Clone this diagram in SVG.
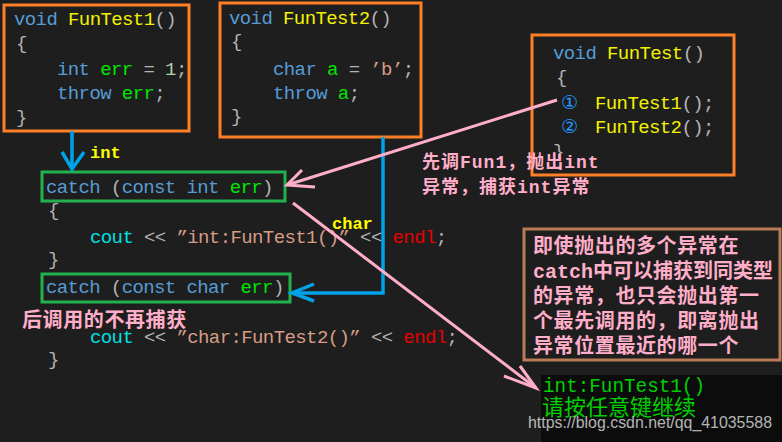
<svg xmlns="http://www.w3.org/2000/svg" width="782" height="442" viewBox="0 0 782 442">
<style>
.code{font-family:"Liberation Mono","DejaVu Sans Mono",monospace;font-size:19px;letter-spacing:-0.6px}
.kw{fill:#569cd6}.fn{fill:#f2f200}.pu{fill:#b4b4b4}.va{fill:#00e600}.num{fill:#b5cea8}.str{fill:#d69d85}.co{fill:#00e0e0}.en{fill:#e60000}
.num2{font-family:"DejaVu Sans",sans-serif;font-size:19px;fill:#1e9bff}
.orange{fill:none;stroke:#ff7f27;stroke-width:3}
.green{fill:none;stroke:#22b14c;stroke-width:3}
.brown{fill:none;stroke:#b97a57;stroke-width:3}
.note{font-family:"Liberation Mono","Noto Sans CJK SC",monospace;font-weight:bold;fill:#ffaec9}
.lab{font-family:"Liberation Mono",monospace;font-weight:bold;font-size:17px;fill:#ffff00}
.blue{fill:none;stroke:#00a2e8;stroke-width:3.5}
.pink{fill:none;stroke:#ffaec9;stroke-width:3}
</style>
<rect width="782" height="442" fill="#1e1e1e"/>

<g id="funtest1">
<rect class="orange" x="4" y="5" width="185" height="126"/>
<text class="code" xml:space="preserve" x="14" y="25"><tspan class="kw">void</tspan> <tspan class="fn">FunTest1</tspan><tspan class="pu">()</tspan></text>
<text class="code pu" x="16" y="49">{</text>
<text class="code" xml:space="preserve" x="57" y="75"><tspan class="kw">int</tspan> <tspan class="va">err</tspan> <tspan class="pu">=</tspan> <tspan class="num">1</tspan><tspan class="pu">;</tspan></text>
<text class="code" xml:space="preserve" x="57" y="99"><tspan class="kw">throw</tspan> <tspan class="va">err</tspan><tspan class="pu">;</tspan></text>
<text class="code pu" x="16" y="123">}</text>
</g>

<g id="funtest2">
<rect class="orange" x="220" y="3" width="201" height="134"/>
<text class="code" xml:space="preserve" x="229" y="24"><tspan class="kw">void</tspan> <tspan class="fn">FunTest2</tspan><tspan class="pu">()</tspan></text>
<text class="code pu" x="231" y="47">{</text>
<text class="code" xml:space="preserve" x="273" y="75"><tspan class="kw">char</tspan> <tspan class="va">a</tspan> <tspan class="pu">=</tspan> <tspan class="str">’b’</tspan><tspan class="pu">;</tspan></text>
<text class="code" xml:space="preserve" x="273" y="99"><tspan class="kw">throw</tspan> <tspan class="va">a</tspan><tspan class="pu">;</tspan></text>
<text class="code pu" x="231" y="122">}</text>
</g>

<g id="funtest">
<rect class="orange" x="532" y="35" width="202" height="140"/>
<text class="code" xml:space="preserve" x="553" y="59"><tspan class="kw">void</tspan> <tspan class="fn">FunTest</tspan><tspan class="pu">()</tspan></text>
<text class="code pu" x="556" y="83">{</text>
<text class="num2" x="561" y="109">①</text>
<text class="code" x="595" y="109"><tspan class="fn">FunTest1</tspan><tspan class="pu">();</tspan></text>
<text class="num2" x="561" y="133">②</text>
<text class="code" x="595" y="133"><tspan class="fn">FunTest2</tspan><tspan class="pu">();</tspan></text>
<text class="code pu" x="553" y="157">}</text>
</g>

<g id="catch-int">
<rect class="green" x="42" y="172" width="243" height="29"/>
<text class="code" xml:space="preserve" x="46" y="193"><tspan class="kw">catch</tspan> <tspan class="pu">(</tspan><tspan class="kw">const int</tspan> <tspan class="va">err</tspan><tspan class="pu">)</tspan></text>
<text class="code pu" x="48" y="216">{</text>
<text class="code" xml:space="preserve" x="90" y="243"><tspan class="co">cout</tspan> <tspan class="pu">&lt;&lt;</tspan> <tspan class="str">”int:FunTest1()”</tspan> <tspan class="pu">&lt;&lt;</tspan> <tspan class="en">endl</tspan><tspan class="pu">;</tspan></text>
<text class="code pu" x="48" y="265">}</text>
</g>

<g id="catch-char">
<rect class="green" x="42" y="274" width="248" height="28"/>
<text class="code" xml:space="preserve" x="46" y="293"><tspan class="kw">catch</tspan> <tspan class="pu">(</tspan><tspan class="kw">const char</tspan> <tspan class="va">err</tspan><tspan class="pu">)</tspan></text>
<text class="code" xml:space="preserve" x="90" y="343"><tspan class="co">cout</tspan> <tspan class="pu">&lt;&lt;</tspan> <tspan class="str">”char:FunTest2()”</tspan> <tspan class="pu">&lt;&lt;</tspan> <tspan class="en">endl</tspan><tspan class="pu">;</tspan></text>
<text class="code pu" x="48" y="365">}</text>
</g>

<g id="console">
<rect x="541" y="375" width="241" height="67" fill="#0c0c0c"/>
<text x="543" y="392" font-family="Liberation Mono,monospace" font-size="19.3" fill="#00d000">int:FunTest1()</text>
<text x="542" y="415" font-family="Noto Sans CJK SC,sans-serif" font-size="22" fill="#00d000">请按任意键继续</text>
<text x="528" y="428" font-family="Liberation Sans,Arial,sans-serif" font-size="17" fill="#ffffff" fill-opacity="0.7" textLength="244" lengthAdjust="spacingAndGlyphs">https://blog.csdn.net/qq_41035588</text>
</g>

<g id="connectors">
<line class="blue" x1="72" y1="131" x2="72" y2="169"/>
<polyline class="blue" points="62,152 72,169 84,152"/>
<polyline class="blue" points="383,137 383,293 292,293"/>
<polyline class="blue" points="314,284 292,293 314,301"/>
<line class="pink" x1="557" y1="100" x2="287" y2="185"/>
<polyline class="pink" points="302,170 287,185 315,187"/>
<line class="pink" x1="293" y1="203" x2="536" y2="388"/>
<polyline class="pink" points="520,366 536,388 504,376"/>
</g>

<g id="labels">
<text class="lab" x="90" y="158">int</text>
<text class="lab" x="332" y="229">char</text>
<text class="note" font-size="18" x="422" y="168" letter-spacing="1">先调Fun1，抛出int</text>
<text class="note" font-size="18" x="422" y="193" letter-spacing="1">异常，捕获int异常</text>
<text class="note" font-size="20" x="22" y="327" letter-spacing="0.6">后调用的不再捕获</text>
</g>

<g id="note">
<rect class="brown" x="524" y="229" width="256" height="131"/>
<text class="note" font-size="20" x="533" y="253" letter-spacing="0.6">即使抛出的多个异常在</text>
<text class="note" font-size="20" x="533" y="278" letter-spacing="0">catch中可以捕获到同类型</text>
<text class="note" font-size="20" x="533" y="303" letter-spacing="0.6">的异常，也只会抛出第一</text>
<text class="note" font-size="20" x="533" y="328" letter-spacing="0.6">个最先调用的，即离抛出</text>
<text class="note" font-size="20" x="533" y="353" letter-spacing="0.6">异常位置最近的哪一个</text>
</g>
</svg>
